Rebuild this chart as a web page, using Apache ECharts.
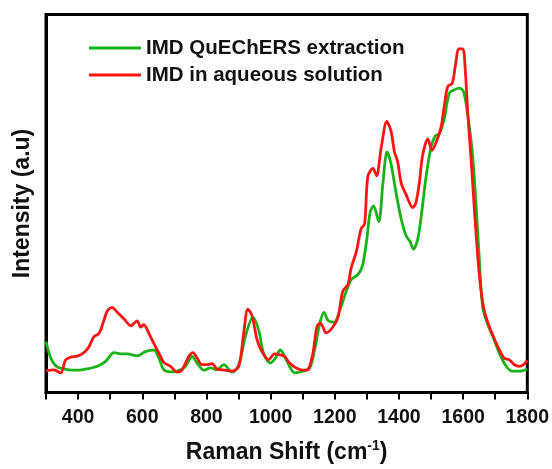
<!DOCTYPE html>
<html>
<head>
<meta charset="utf-8">
<script src="https://cdn.jsdelivr.net/npm/echarts@6/dist/echarts.min.js"></script>
<style>
  html, body { margin: 0; padding: 0; background: #fff; }
  #chart { width: 552px; height: 469px; }
</style>
</head>
<body>
<div id="chart"></div>
<script>
const seriesNames = ["IMD QuEChERS extraction", "IMD in aqueous solution"];

// Raman shift (cm-1), intensity (a.u.)
const quechersPoints = [
    [300, 52], [315, 35], [335, 26], [366, 23.3], [397, 22.7], [428, 24], [460, 26.7],
    [486, 31.7], [512, 40.7], [532, 39.3], [553, 39.3], [584, 37.3], [610, 41.7], [636, 43.3],
    [652, 35], [667, 23.3], [688, 21], [709, 21.7], [735, 26.7], [755, 36.7], [771, 30],
    [792, 22.7], [812, 25], [833, 23.3], [854, 28.3], [880, 20.7], [901, 28.3], [921, 56.7],
    [945, 76.7], [963, 63.3], [978, 40], [999, 30], [1015, 35], [1030, 43.3], [1046, 35],
    [1060, 26], [1075, 20], [1101, 21.7], [1122, 25], [1137, 43.3], [1153, 70], [1166, 81.7],
    [1179, 73.3], [1199, 71.7], [1215, 83.3], [1236, 103.3], [1251, 115], [1272, 120],
    [1287, 130], [1300, 156.7], [1310, 183.3], [1321, 190], [1337, 174], [1350, 213.3],
    [1363, 245], [1375, 233.3], [1391, 203.3], [1407, 176.7], [1422, 160], [1435, 153.3],
    [1445, 146], [1459, 156.7], [1472, 186.7], [1485, 221], [1500, 250], [1514, 261.7],
    [1526, 263.3], [1542, 280], [1557, 305], [1573, 308.3], [1587, 310], [1601, 306.7],
    [1614, 283.3], [1628, 246.7], [1638, 203.3], [1649, 143.3], [1661, 86.7], [1676, 70],
    [1697, 53.3], [1713, 40], [1734, 26.7], [1753, 21.7], [1777, 21.7], [1800, 24]
];

const aqueousPoints = [
    [300, 22], [325, 23], [346, 20], [361, 33], [377, 36], [397, 37], [418, 40.7], [434, 46.7],
    [449, 56.7], [465, 60], [480, 73], [491, 83], [506, 86.7], [522, 81.7], [543, 75],
    [564, 68], [584, 73], [595, 66.7], [605, 69], [621, 60], [636, 50], [652, 40], [667, 30.7],
    [688, 26.7], [709, 20.7], [724, 23], [745, 36.7], [758, 40.7], [771, 35], [786, 28.3],
    [802, 28.3], [818, 29.3], [833, 24], [859, 22.7], [880, 21.7], [901, 26.7], [916, 60],
    [929, 85], [942, 78.3], [958, 53.3], [973, 41.7], [994, 33.3], [1012, 39.3], [1030, 38.3],
    [1044, 36.7], [1059, 30], [1080, 25], [1101, 22.7], [1116, 23.3], [1132, 40], [1144, 66.7],
    [1155, 70.7], [1163, 66.7], [1173, 60.7], [1194, 66.7], [1210, 76.7], [1225, 103.3],
    [1241, 110], [1251, 126.7], [1267, 143.3], [1282, 166.7], [1293, 171.7], [1303, 220],
    [1319, 228.3], [1330, 220.7], [1345, 250], [1362, 276], [1375, 266.7], [1386, 245],
    [1396, 235], [1407, 213.3], [1422, 201.7], [1443, 188.3], [1453, 193.3], [1464, 215],
    [1474, 242], [1490, 258.3], [1503, 246.7], [1516, 255], [1531, 270], [1542, 293.3],
    [1552, 311.7], [1566, 315], [1576, 333.3], [1587, 350], [1599, 350], [1607, 326.7],
    [1614, 286.7], [1625, 236.7], [1635, 186.7], [1646, 136.7], [1656, 103.3], [1666, 83.3],
    [1682, 66.7], [1697, 55], [1713, 43.3], [1728, 35], [1744, 33.3], [1760, 28.3],
    [1775, 26.7], [1788, 28.3], [1800, 32.7]
];

const xTickLabels = [400, 600, 800, 1000, 1200, 1400, 1600, 1800];

const chart = echarts.init(document.getElementById("chart"));
const font = "'Liberation Sans', Arial, sans-serif";

chart.setOption({
    backgroundColor: "#fff",
    animation: false,
    grid: {left: 46, right: 24, top: 14.5, bottom: 69, show: true, borderColor: "#000", borderWidth: 3},
    legend: {
        orient: "vertical",
        left: 84,
        top: 32,
        icon: "rect",
        itemWidth: 52,
        itemHeight: 3,
        itemGap: 5,
        textStyle: {fontFamily: font, fontWeight: "bold", fontSize: 20.5, color: "#111", lineHeight: 22},
        data: seriesNames
    },
    xAxis: {
        type: "value",
        min: 300,
        max: 1800,
        interval: 100,
        splitLine: {show: false},
        axisLine: {lineStyle: {color: "#000", width: 3}},
        axisTick: {inside: false, length: 7, lineStyle: {color: "#000", width: 2}},
        axisLabel: {
            fontFamily: font, fontWeight: "bold", fontSize: 19.5, color: "#111", margin: 15,
            formatter: v => xTickLabels.includes(v) ? String(v) : ""
        },
        name: "Raman Shift (cm{sup|-1})",
        nameLocation: "middle",
        nameGap: 47,
        nameTextStyle: {
            fontFamily: font, fontWeight: "bold", fontSize: 23, color: "#111",
            rich: {sup: {fontFamily: font, fontWeight: "bold", fontSize: 14, color: "#111", verticalAlign: "top", padding: [0, 0, 12, 0]}}
        }
    },
    yAxis: {
        type: "value",
        min: 0,
        max: 385,
        splitLine: {show: false},
        axisLine: {show: true, lineStyle: {color: "#000", width: 3}},
        axisTick: {show: false},
        axisLabel: {show: false},
        name: "Intensity (a.u)",
        nameLocation: "middle",
        nameGap: 12,
        nameTextStyle: {fontFamily: font, fontWeight: "bold", fontSize: 23, color: "#111"}
    },
    series: [
        {
            name: seriesNames[0],
            type: "line",
            data: quechersPoints,
            symbol: "none",
            smooth: 0.3,
            lineStyle: {color: "#17b317", width: 2.8},
            itemStyle: {color: "#17b317"}
        },
        {
            name: seriesNames[1],
            type: "line",
            data: aqueousPoints,
            symbol: "none",
            smooth: 0.3,
            lineStyle: {color: "#ff1414", width: 2.8},
            itemStyle: {color: "#ff1414"}
        }
    ]
});
</script>
</body>
</html>
